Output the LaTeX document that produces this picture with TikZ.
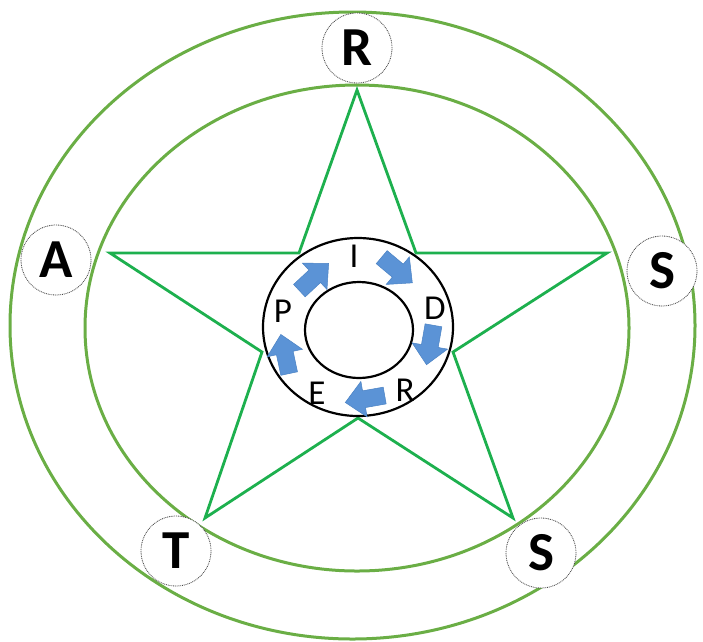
\documentclass[tikz,border=0pt]{standalone}
\usepackage{fontspec}
\setmainfont{Carlito}
\definecolor{ringgreen}{HTML}{6AAE45}
\definecolor{stargreen}{HTML}{1DB04E}
\definecolor{arrowblue}{HTML}{5B93D6}
\definecolor{arrowedge}{HTML}{4A82C4}
\tikzset{
  ovalline/.style={draw=ringgreen, line width=3pt},
  starline/.style={draw=stargreen, line width=2.8pt, line join=miter},
  ringline/.style={draw=black, line width=2.2pt},
  lettercircle/.style={circle, draw=gray!55!black, dash pattern=on 0.9pt off 0.9pt, line width=0.8pt, fill=white,
    minimum size=70pt, inner sep=0pt, font=\fontsize{55}{55}\selectfont\bfseries},
  innerletter/.style={inner sep=0pt, font=\fontsize{35}{35}\selectfont},
  blockarrow/.pic={\fill[arrowblue, draw=arrowedge, line width=0.5pt]
    (-20,-8.5) -- (1,-8.5) -- (1,-18) -- (20,0) -- (1,18) -- (1,8.5) -- (-20,8.5) -- cycle;}
}
\begin{document}
\begin{tikzpicture}[x=1pt,y=-1pt]
\useasboundingbox (0,0) rectangle (703,641);
% ellipses
\draw[ovalline] (352.5,325.5) ellipse [x radius=342.5, y radius=313.5];
\draw[ovalline] (357,328) ellipse [x radius=272, y radius=243];
% star
\draw[starline] (357,90) -- (416,253) -- (607,253) -- (453,352) -- (513,518)
  -- (358,418) -- (205,518) -- (262,352) -- (110,253) -- (299,253) -- cycle;
% central ring
\draw[ringline, fill=white] (358,327) ellipse [x radius=95, y radius=89];
\draw[ringline] (359,330) ellipse [x radius=54, y radius=48];
% inner letters
\node[innerletter] (li) at (354,256) {I};
\node[innerletter] (ld) at (435,308) {D};
\node[innerletter] (lr) at (405,390) {R};
\node[innerletter] (le) at (317,393) {E};
\node[innerletter] (lp) at (283,311) {P};
% arrows
\pic[rotate=43] at (314,277) {blockarrow};
\pic[rotate=-40] at (397,270) {blockarrow};
\pic[rotate=-100] at (430,345) {blockarrow};
\pic[rotate=190] at (365,399) {blockarrow};
\pic[rotate=102] at (285,354) {blockarrow};
% outer letters
\node[lettercircle] (cr) at (357,48) {R};
\node[lettercircle] (ca) at (56,260) {A};
\node[lettercircle] (cs1) at (662,271) {S};
\node[lettercircle] (ct) at (176,551) {T};
\node[lettercircle] (cs2) at (541,553) {S};
\end{tikzpicture}
\end{document}
